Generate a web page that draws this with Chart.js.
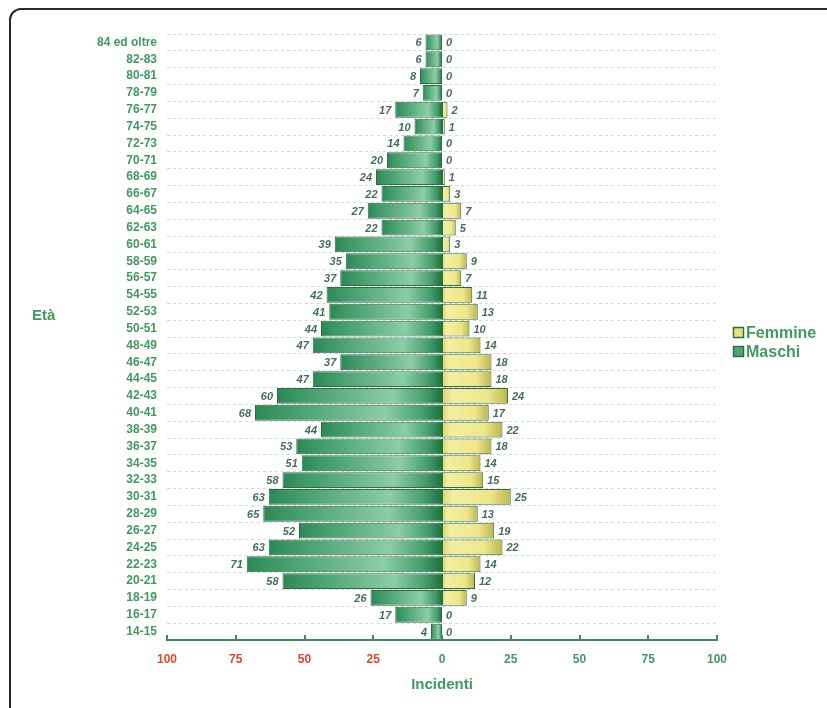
<!DOCTYPE html>
<html lang="it">
<head>
<meta charset="utf-8">
<title>Incidenti per età e sesso</title>
<script src="https://cdn.jsdelivr.net/npm/chart.js@4"></script>
<style>
  html, body { margin: 0; padding: 0; background: #fff; overflow: hidden; }
  #frame {
    position: absolute; left: 9px; top: 8px; width: 900px; height: 800px;
    border: 2px solid #2a2a2a; border-top-left-radius: 12px; box-sizing: border-box;
  }
  #wrap { position: absolute; left: 0; top: 0; width: 827px; height: 708px; }
</style>
</head>
<body>
<div id="frame"></div>
<div id="wrap"><canvas id="chart" width="827" height="708"></canvas></div>
<script>
// Age classes, oldest at the top
const ageClasses = [
  '84 ed oltre', '82-83', '80-81', '78-79', '76-77', '74-75', '72-73', '70-71',
  '68-69', '66-67', '64-65', '62-63', '60-61', '58-59', '56-57', '54-55',
  '52-53', '50-51', '48-49', '46-47', '44-45', '42-43', '40-41', '38-39',
  '36-37', '34-35', '32-33', '30-31', '28-29', '26-27', '24-25', '22-23',
  '20-21', '18-19', '16-17', '14-15'
];

// Accidents among men (drawn to the left of zero)
const maschi = [
  6, 6, 8, 7, 17, 10, 14, 20, 24, 22, 27, 22, 39, 35, 37, 42,
  41, 44, 47, 37, 47, 60, 68, 44, 53, 51, 58, 63, 65, 52, 63, 71,
  58, 26, 17, 4
];

// Accidents among women (drawn to the right of zero)
const femmine = [
  0, 0, 0, 0, 2, 1, 0, 0, 1, 3, 7, 5, 3, 9, 7, 11,
  13, 10, 14, 18, 18, 24, 17, 22, 18, 14, 15, 25, 13, 19, 22, 14,
  12, 9, 0, 0
];

// Axis ticks shown under the chart
const tickValues = [-100, -75, -50, -25, 0, 25, 50, 75, 100];

const FONT = "'Liberation Sans', Arial, Helvetica, sans-serif";
const GREEN_TEXT = '#3f9a62';
const LABEL_TEXT = '#44705a';
const AXIS_GREEN = '#3d8d5a';
const RED_TEXT = '#e2462c';
const BAR_EDGE = '#2f6e44';

// Horizontal shading for each bar, running from its end back to zero
function barGradient(ctx, stops, flat) {
  const chart = ctx.chart;
  const xs = chart.scales && chart.scales.x;
  if (!chart.chartArea || !xs || ctx.raw === undefined) return flat;
  const x1 = xs.getPixelForValue(ctx.raw);
  const x0 = xs.getPixelForValue(0);
  if (!isFinite(x1) || Math.abs(x1 - x0) < 1) return flat;
  const g = chart.ctx.createLinearGradient(Math.min(x0, x1), 0, Math.max(x0, x1), 0);
  stops.forEach(([p, c]) => g.addColorStop(p, c));
  return g;
}

const maleStops = [[0, '#2b8753'], [0.12, '#3b9763'], [0.7, '#8ccda7'], [0.9, '#459c69'], [1, '#1c7140']];
const femaleStops = [[0, '#d9d26e'], [0.15, '#f4efa0'], [0.7, '#ede68a'], [1, '#bdb54c']];

// Value labels at the outer end of every bar
const valueLabels = {
  id: 'valueLabels',
  afterDatasetsDraw(chart) {
    const c = chart.ctx;
    c.save();
    c.font = `italic bold 11px ${FONT}`;
    c.textBaseline = 'middle';
    const sets = [{ idx: 0, vals: maschi, side: -1 }, { idx: 1, vals: femmine, side: 1 }];
    sets.forEach(s => {
      const meta = chart.getDatasetMeta(s.idx);
      meta.data.forEach((bar, i) => {
        const txt = String(s.vals[i]);
        const w = c.measureText(txt).width;
        const x = s.side < 0 ? bar.x - 4 - w : bar.x + 4;
        c.fillStyle = '#ffffff';
        c.fillRect(x - 1, bar.y - 6, w + 2, 12);
        c.fillStyle = LABEL_TEXT;
        c.textAlign = 'left';
        c.fillText(txt, x, bar.y + 1);
      });
    });
    c.restore();
  }
};

// Axis ticks, the vertical axis caption and the legend
const decorations = {
  id: 'decorations',
  afterDraw(chart) {
    const c = chart.ctx;
    const xs = chart.scales.x;
    const area = chart.chartArea;
    c.save();
    c.strokeStyle = AXIS_GREEN;
    c.lineWidth = 2;
    tickValues.forEach(v => {
      const x = Math.round(xs.getPixelForValue(v));
      c.beginPath();
      c.moveTo(x, area.bottom);
      c.lineTo(x, area.bottom - 5);
      c.stroke();
    });

    c.fillStyle = GREEN_TEXT;
    c.font = `bold 15px ${FONT}`;
    c.textAlign = 'left';
    c.textBaseline = 'middle';
    c.fillText('Età', 32, 316);

    const items = [
      { text: 'Femmine', color: '#e9e27a', y: 333 },
      { text: 'Maschi', color: '#4fa474', y: 352 }
    ];
    items.forEach(it => {
      c.fillStyle = it.color;
      c.fillRect(733.5, it.y - 5.5, 10, 10);
      c.strokeStyle = BAR_EDGE;
      c.lineWidth = 1.5;
      c.strokeRect(733.5, it.y - 5.5, 10, 10);
      c.fillStyle = GREEN_TEXT;
      c.font = `bold 16px ${FONT}`;
      c.fillText(it.text, 746, it.y + 1);
    });
    c.restore();
  }
};

new Chart(document.getElementById('chart'), {
  type: 'bar',
  data: {
    labels: ageClasses,
    datasets: [
      {
        label: 'Maschi',
        data: maschi.map(v => -v),
        backgroundColor: ctx => barGradient(ctx, maleStops, '#4fa474'),
        borderColor: BAR_EDGE,
        borderWidth: 1,
        borderSkipped: false,
        barPercentage: 0.94,
        categoryPercentage: 1
      },
      {
        label: 'Femmine',
        data: femmine,
        backgroundColor: ctx => barGradient(ctx, femaleStops, '#e9e27a'),
        borderColor: BAR_EDGE,
        borderWidth: ctx => (ctx.raw ? 1 : 0),
        borderSkipped: false,
        barPercentage: 0.94,
        categoryPercentage: 1
      }
    ]
  },
  options: {
    indexAxis: 'y',
    responsive: false,
    animation: false,
    layout: { padding: { top: 34, right: 110, bottom: 0, left: 0 } },
    plugins: {
      legend: { display: false },
      tooltip: { enabled: false }
    },
    scales: {
      x: {
        stacked: false,
        min: -100,
        max: 100,
        afterBuildTicks: scale => { scale.ticks = tickValues.map(v => ({ value: v })); },
        afterFit: scale => { scale.height = 68; },
        grid: { display: false, drawTicks: false },
        border: { display: true, color: AXIS_GREEN, width: 2 },
        ticks: {
          padding: 12,
          autoSkip: false,
          maxRotation: 0,
          font: { family: FONT, size: 12, weight: 'bold' },
          color: ctx => (ctx.tick && ctx.tick.value < 0 ? RED_TEXT : GREEN_TEXT),
          callback: v => String(Math.abs(v))
        },
        title: {
          display: true,
          text: 'Incidenti',
          color: GREEN_TEXT,
          font: { family: FONT, size: 15, weight: 'bold' },
          padding: { top: 8, bottom: 14 }
        }
      },
      y: {
        stacked: true,
        afterFit: scale => { scale.width = 167; },
        grid: {
          offset: true,
          color: '#d9d9d9',
          lineWidth: 1,
          drawTicks: false
        },
        border: { display: false, dash: [3, 3] },
        ticks: {
          padding: 10,
          autoSkip: false,
          font: { family: FONT, size: 12, weight: 'bold' },
          color: GREEN_TEXT
        }
      }
    }
  },
  plugins: [valueLabels, decorations]
});
</script>
</body>
</html>
